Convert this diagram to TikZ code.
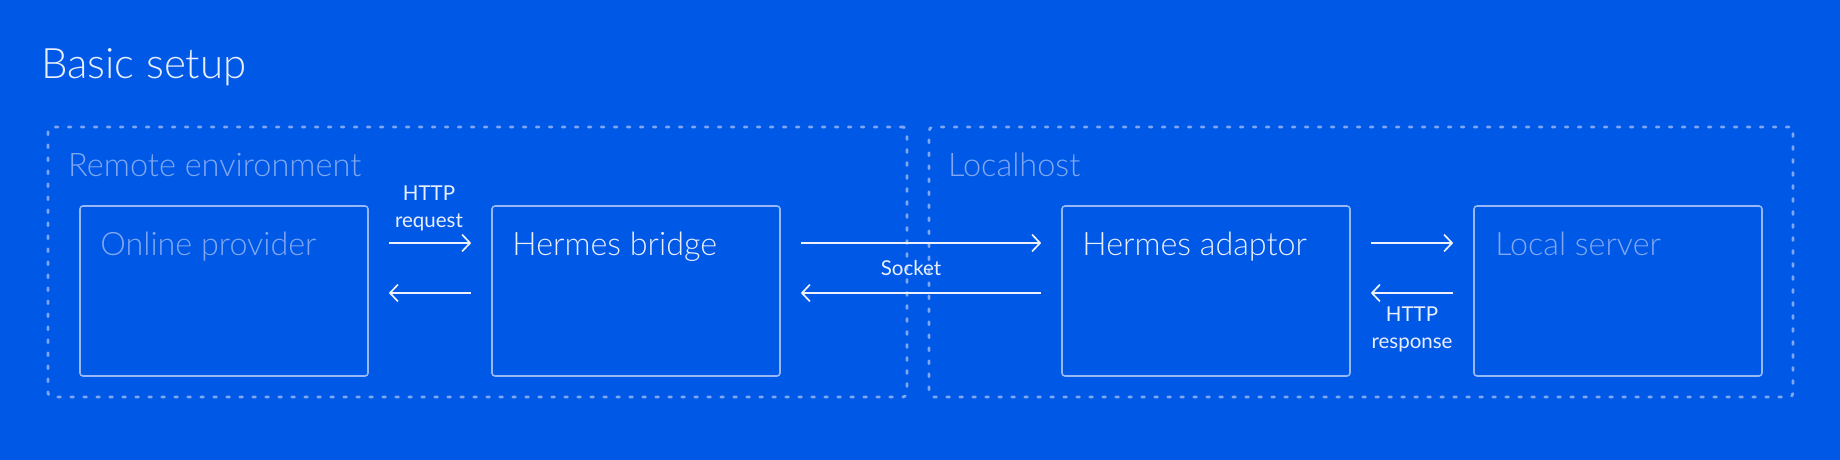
\documentclass[tikz,border=0pt]{standalone}
\usepackage{fontspec}
\usetikzlibrary{arrows.meta,calc}
\IfFontExistsTF{Lato Light}{\setmainfont{Lato Light}\newfontfamily\regf{Lato}}{%
  \IfFontExistsTF{Fira Sans Light}{\setmainfont{Fira Sans Light}\newfontfamily\regf{Fira Sans}}{%
    \IfFontExistsTF{Open Sans Light}{\setmainfont{Open Sans Light}\newfontfamily\regf{Open Sans}}{%
      \setmainfont{Liberation Sans}\newfontfamily\regf{Liberation Sans}}}}
\definecolor{bgc}{RGB}{0,88,230}
\definecolor{dashc}{RGB}{126,166,243}
\definecolor{boxc}{RGB}{150,184,246}
\definecolor{dimc}{RGB}{128,168,242}
\definecolor{brightc}{RGB}{232,239,253}
\definecolor{arrc}{RGB}{236,241,253}
\tikzset{
  container/.style={draw=dashc, line width=2.8pt, dash pattern=on 2.8pt off 10.2pt,
    line cap=round, rounded corners=4pt, inner sep=0pt, minimum height=270pt},
  box/.style={draw=boxc, line width=1.6pt, rounded corners=3pt, inner sep=0pt,
    minimum width=288pt, minimum height=170pt},
  boxtitle/.style={anchor=base west, inner sep=0pt, font=\fontsize{32.3}{38}\selectfont},
  grouptitle/.style={anchor=base west, inner sep=0pt, text=dimc, font=\fontsize{32.5}{38}\selectfont},
  arr/.style={draw=arrc, line width=1.7pt, -{Straight Barb[length=8pt,width=17pt]},
    shorten <=20pt, shorten >=20pt},
  lbl/.style={anchor=base, inner sep=0pt, text=brightc, align=center,
    font=\regf\fontsize{20.5}{27}\selectfont},
}
\begin{document}
\begin{tikzpicture}[x=1pt,y=-1pt]
\fill[bgc] (0,0) rectangle (1840,460);
\useasboundingbox (0,0) rectangle (1840,460);

\node[anchor=base west, inner sep=0pt, text=brightc, font=\fontsize{42}{50}\selectfont] (title) at (41,79) {Basic setup};

% containers
\node[container, minimum width=859pt] (remote) at (477.5,262) {};
\node[container, minimum width=864pt] (local) at (1361,262) {};
\node[grouptitle] (remotet) at (68,176) {Remote environment};
\node[grouptitle] (localt) at (948,176) {Localhost};

% boxes
\node[box] (b1) at (224,291) {};
\node[box] (b2) at (636,291) {};
\node[box] (b3) at (1206,291) {};
\node[box] (b4) at (1618,291) {};
\node[boxtitle, text=dimc] (t1) at ([xshift=21pt,yshift=-50pt]b1.north west) {Online provider};
\node[boxtitle, text=brightc] (t2) at ([xshift=21pt,yshift=-50pt]b2.north west) {Hermes bridge};
\node[boxtitle, text=brightc] (t3) at ([xshift=21pt,yshift=-50pt]b3.north west) {Hermes adaptor};
\node[boxtitle, text=dimc] (t4) at ([xshift=22pt,yshift=-50pt]b4.north west) {Local server};

% arrows
\draw[arr] ($(b1.east)+(0,-48)$) -- ($(b2.west)+(0,-48)$);
\draw[arr] ($(b2.west)+(0,2)$) -- ($(b1.east)+(0,2)$);
\draw[arr] ($(b2.east)+(0,-48)$) -- ($(b3.west)+(0,-48)$);
\draw[arr] ($(b3.west)+(0,2)$) -- ($(b2.east)+(0,2)$);
\draw[arr] ($(b3.east)+(0,-48)$) -- ($(b4.west)+(0,-48)$);
\draw[arr] ($(b4.west)+(0,2)$) -- ($(b3.east)+(0,2)$);

% labels (base anchor = baseline of the last line)
\node[lbl] (lreq) at (429,227) {HTTP\\request};
\node[lbl] (lsock) at (911,275) {Socket};
\node[lbl] (lresp) at (1412,348) {HTTP\\response};
\end{tikzpicture}
\end{document}
